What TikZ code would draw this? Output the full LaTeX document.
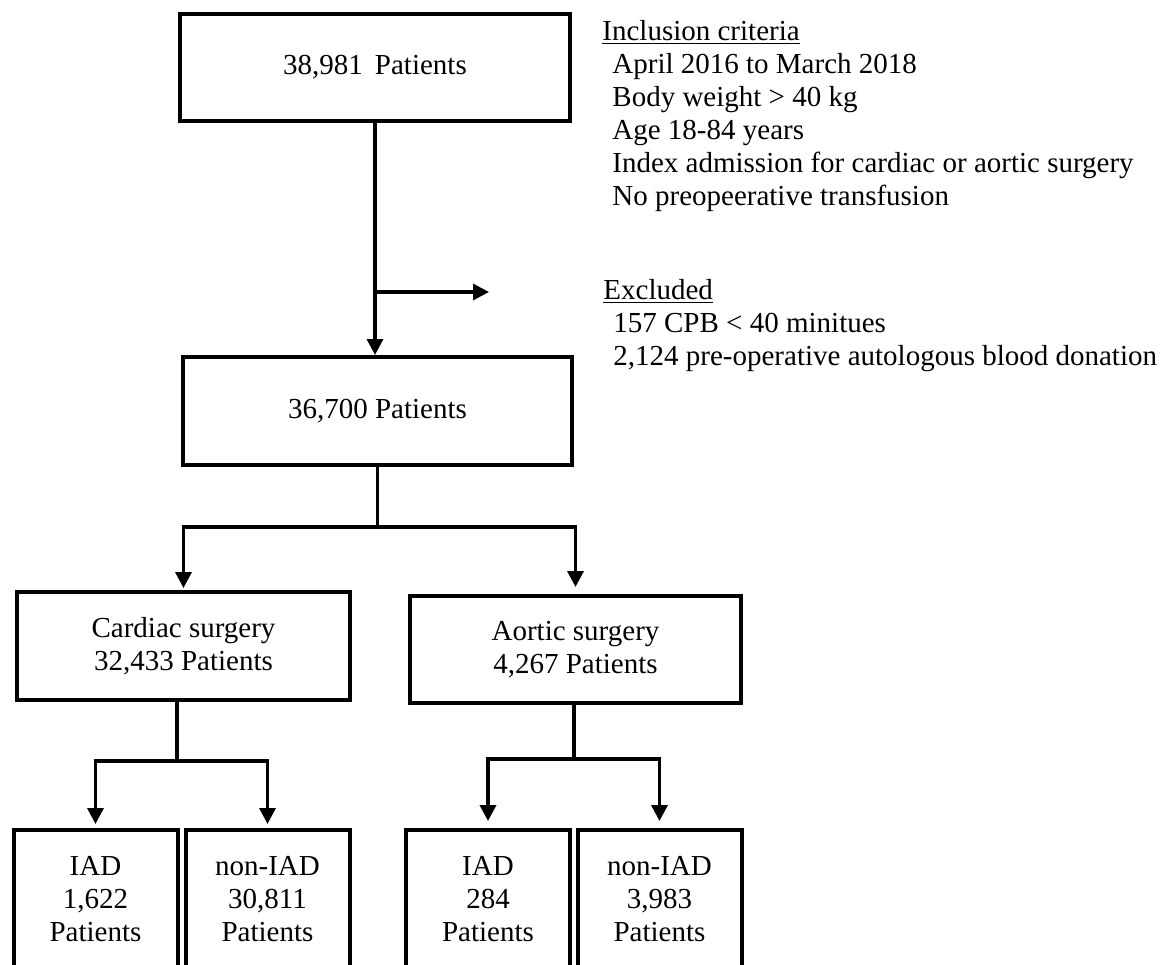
\documentclass[tikz,border=0pt]{standalone}
\usepackage{fontspec}
\setmainfont{Liberation Serif}
\usepackage{tikz}
\usetikzlibrary{arrows.meta}
\tikzset{
  box/.style={draw, line width=2pt, align=center, inner sep=0pt,
    font=\fontsize{14.5}{16.5}\selectfont},
  leaf/.style={box, anchor=north, minimum width=82pt, inner ysep=13pt, text depth=60pt},
  conn/.style={line width=1.7pt},
  arr/.style={conn, -{Triangle[length=8pt,width=8pt]}},
  note/.style={align=left, anchor=north west, inner sep=0pt,
    font=\fontsize{14.5}{16.5}\selectfont}
}

\begin{document}
\begin{tikzpicture}[x=0.5pt,y=-0.5pt]
\useasboundingbox (0,0) rectangle (1162,964);
\clip (0,0) rectangle (1162,964);
\node[box, minimum width=195pt, minimum height=53.5pt] (total) at (375,67.5) {38,981\, Patients};
\node[box, minimum width=194.5pt, minimum height=54pt] (pool) at (377.5,411) {36,700 Patients};
\node[box, minimum width=166.5pt, minimum height=54pt] (cardiac) at (183.5,646) {Cardiac surgery\\32,433 Patients};
\node[box, minimum width=165.5pt, minimum height=53.5pt] (aortic) at (575.5,649.5) {Aortic surgery\\4,267 Patients};
\node[leaf] (iadc) at (95.5,828) {IAD\\1,622\\Patients};
\node[leaf] (noniadc) at (267.5,828) {non-IAD\\30,811\\Patients};
\node[leaf] (iada) at (488,828) {IAD\\284\\Patients};
\node[leaf] (noniada) at (659.5,828) {non-IAD\\3,983\\Patients};
\node[note] (incl) at (602,20) {\underline{Inclusion criteria}\\
  \hspace*{5pt}April 2016 to March 2018\\
  \hspace*{5pt}Body weight > 40 kg\\
  \hspace*{5pt}Age 18-84 years\\
  \hspace*{5pt}Index admission for cardiac or aortic surgery\\
  \hspace*{5pt}No preopeerative transfusion};
\node[note] (excl) at (603,279) {\underline{Excluded}\\
  \hspace*{5pt}157 CPB < 40 minitues\\
  \hspace*{5pt}2,124 pre-operative autologous blood donation};
\coordinate (out) at (489,292);
\coordinate (split) at (377.5,527);
\coordinate (csplit) at (177,761);
\coordinate (asplit) at (574,759);
\draw[arr] (total.south) -- (total.south |- pool.north);
\draw[arr] (total.south |- out) -- (out);
\draw[conn] (pool.south) -- (split);
\draw[arr, shorten >=1pt] (split) -| (cardiac.north);
\draw[arr, shorten >=3.5pt] (split) -| (aortic.north);
\draw[conn] (cardiac.south -| csplit) -- (csplit);
\draw[arr, shorten >=2pt] (csplit) -| (iadc.north);
\draw[arr, shorten >=2pt] (csplit) -| (noniadc.north);
\draw[conn] (aortic.south -| asplit) -- (asplit);
\draw[arr, shorten >=3.5pt] (asplit) -| (iada.north);
\draw[arr, shorten >=3.5pt] (asplit) -| (noniada.north);
\end{tikzpicture}
\end{document}
